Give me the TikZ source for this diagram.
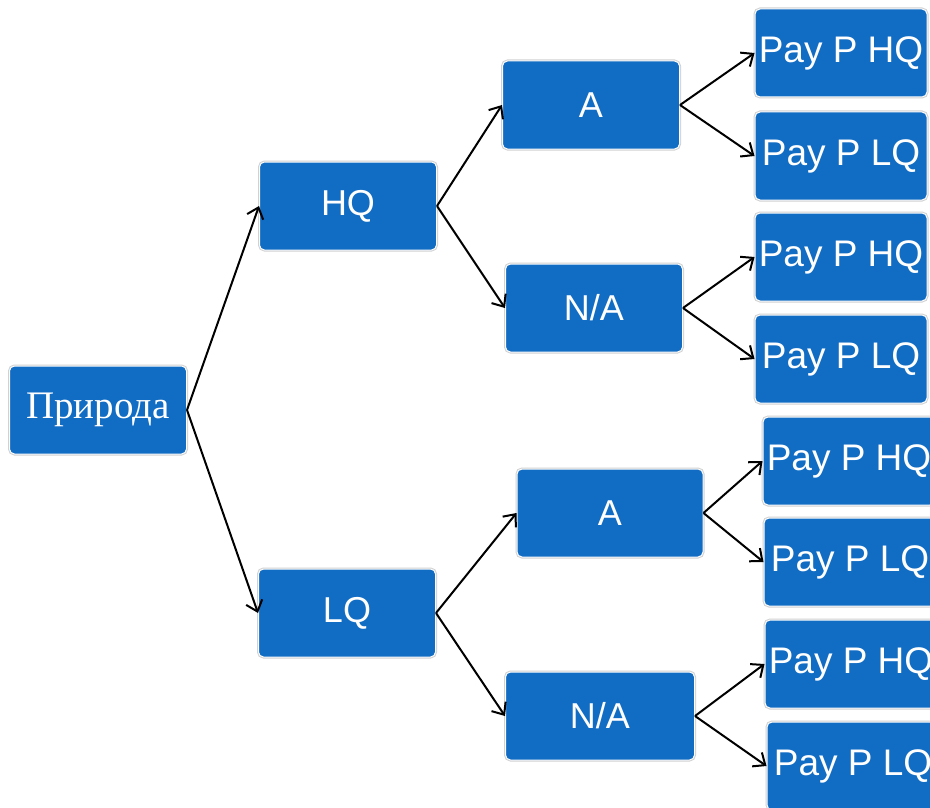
\documentclass[tikz,border=0pt]{standalone}
\usepackage{fontspec}
\setmainfont{Liberation Sans}
\newfontfamily\serifru{Liberation Serif}
\usetikzlibrary{arrows.meta}
\definecolor{boxblue}{RGB}{17,108,196}
\tikzset{
  box/.style={rectangle, rounded corners=5pt, fill=boxblue, text=white,
    draw=white, line width=1pt, preaction={draw=black!18, line width=3pt},
    minimum width=177pt, minimum height=88pt, inner sep=0pt,
    font=\fontsize{36}{40}\selectfont},
  leaf/.style={box, minimum width=172pt, font=\fontsize{37}{40}\selectfont},
  conn/.style={line width=2pt, -{Straight Barb[length=10pt,width=17pt,line width=2pt]}}
}
\begin{document}
\begin{tikzpicture}[x=1pt,y=-1pt]
\clip (0,0) rectangle (930,808);
\fill[white] (0,0) rectangle (930,808);
\node[box, font=\serifru\fontsize{39}{42}\selectfont] (root) at (98,410) {Природа};
\node[box] (hq) at (348,206) {HQ};
\node[box] (lq) at (347,613) {LQ};
\node[box] (a1) at (591,105) {A};
\node[box] (na1) at (594,308) {N/A};
\node[box, minimum width=186pt] (a2) at (610,513) {A};
\node[box, minimum width=189pt] (na2) at (600,716) {N/A};
\node[leaf] (l1) at (841,53) {Pay P HQ};
\node[leaf] (l2) at (841,156) {Pay P LQ};
\node[leaf] (l3) at (841,257) {Pay P HQ};
\node[leaf] (l4) at (841,359) {Pay P LQ};
\node[leaf] (l5) at (849,461) {Pay P HQ};
\node[leaf] (l6) at (850,562) {Pay P LQ};
\node[leaf] (l7) at (851,664) {Pay P HQ};
\node[leaf] (l8) at (853,766) {Pay P LQ};
\draw[conn] (root.east) -- (hq.west);
\draw[conn] (root.east) -- (lq.west);
\draw[conn] (hq.east) -- (a1.west);
\draw[conn] (hq.east) -- (na1.west);
\draw[conn] (lq.east) -- (a2.west);
\draw[conn] (lq.east) -- (na2.west);
\draw[conn] (a1.east) -- (l1.west);
\draw[conn] (a1.east) -- (l2.west);
\draw[conn] (na1.east) -- (l3.west);
\draw[conn] (na1.east) -- (l4.west);
\draw[conn] (a2.east) -- (l5.west);
\draw[conn] (a2.east) -- (l6.west);
\draw[conn] (na2.east) -- (l7.west);
\draw[conn] (na2.east) -- (l8.west);
\end{tikzpicture}
\end{document}
